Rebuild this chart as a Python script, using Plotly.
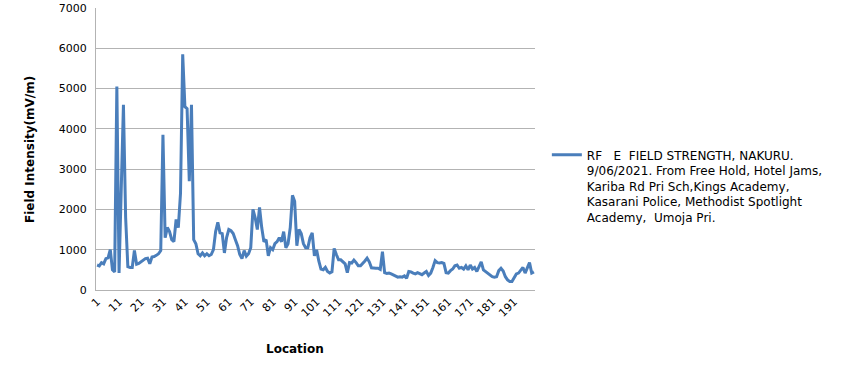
import plotly.graph_objects as go

locations = list(range(1, 201))

field_strength = [
    # 1-32
    620, 600, 680, 650, 780, 800, 1000, 500, 450, 5050, 420, 2500, 4600, 1800, 580, 560,
    560, 980, 640, 660, 700, 740, 780, 790, 650, 820, 830, 860, 900, 980, 3850, 1300,
    # 33-65
    1550, 1450, 1250, 1200, 1750, 1550, 2400, 5850, 4550, 4500, 2700, 4600, 1250, 1150, 900,
    850, 920, 850, 900, 850, 880, 1000, 1450, 1680, 1420, 1400, 920, 1300, 1500, 1470, 1400,
    1250, 1100,
    # 66-98
    880, 780, 980, 840, 900, 1050, 2000, 1800, 1500, 2050, 1550, 1200, 1250, 850, 1050, 1000,
    1150, 1200, 1300, 1200, 1450, 1050, 1150, 1550, 2350, 2200, 1100, 1500, 1400, 1150, 1050,
    1050, 1300,
    # 99-131
    1420, 850, 1000, 720, 520, 500, 560, 460, 420, 450, 1030, 880, 750, 750, 700, 650, 430,
    680, 670, 740, 680, 600, 600, 650, 720, 790, 700, 550, 540, 540, 540, 510, 950,
    # 132-166
    430, 410, 420, 400, 370, 350, 320, 330, 320, 350, 290, 460, 450, 420, 400, 430, 400, 380,
    420, 460, 360, 420, 560, 730, 680, 670, 680, 660, 430, 420, 480, 520, 600, 620, 540,
    # 167-200
    560, 520, 600, 500, 620, 520, 560, 460, 580, 700, 500, 460, 420, 380, 330, 320, 330, 480,
    540, 470, 330, 250, 210, 210, 310, 400, 420, 480, 560, 420, 560, 680, 420, 450,
]

x_tick_vals = list(range(1, 200, 10))
y_tick_vals = list(range(0, 7001, 1000))

series_name = ("RF\u00a0\u00a0 E\u00a0 FIELD STRENGTH, NAKURU.<br>"
               "9/06/2021. From Free Hold, Hotel Jams,<br>"
               "Kariba Rd Pri Sch,Kings Academy,<br>"
               "Kasarani Police, Methodist Spotlight<br>"
               "Academy,\u00a0 Umoja Pri.")

FONT = "DejaVu Sans"
GRID = "#b3b3b3"

fig = go.Figure()
fig.add_trace(go.Scatter(
    x=locations[:len(field_strength)], y=field_strength, mode="lines",
    name=series_name, line=dict(color="#4a7ebb", width=3),
    showlegend=True,
))

fig.update_layout(
    width=847, height=376,
    margin=dict(l=96, r=312, t=8, b=86, autoexpand=False),
    paper_bgcolor="white", plot_bgcolor="white",
    font=dict(family=FONT, size=11, color="black"),
    showlegend=True,
    legend=dict(x=1.027, y=0.53, xanchor="left", yanchor="top",
                font=dict(family=FONT, size=12, color="black"),
                valign="top", bgcolor="rgba(0,0,0,0)", borderwidth=0,
                itemwidth=30, tracegroupgap=0),
    xaxis=dict(range=[0.5, 200.5], tickmode="array", tickvals=x_tick_vals,
               ticktext=[str(v) for v in x_tick_vals], tickangle=-45,
               showgrid=False, zeroline=False, showline=True, linecolor=GRID,
               linewidth=1, ticks="", automargin=False,
               tickfont=dict(family=FONT, size=11)),
    yaxis=dict(range=[0, 7000], tickmode="array", tickvals=y_tick_vals,
               showgrid=True, gridcolor=GRID, gridwidth=1, zeroline=False,
               showline=True, linecolor=GRID, linewidth=1, ticks="",
               ticklabelstandoff=6,
               automargin=False, tickfont=dict(family=FONT, size=11)),
    annotations=[
        dict(text="<b>Location</b>", x=295, y=349, xref="paper", yref="paper",
             showarrow=False, font=dict(family=FONT, size=12)),
        dict(text="<b>Field Intensity(mV/m)</b>", textangle=-90, x=30, y=150,
             xref="paper", yref="paper", showarrow=False,
             font=dict(family=FONT, size=12)),
    ],
)

# convert pixel positions of titles into paper coordinates
pw = 847 - 96 - 312
ph = 376 - 8 - 86
for a in fig.layout.annotations:
    px, py = a.x, a.y
    a.x = (px - 96) / pw
    a.y = 1 - (py - 8) / ph
    a.xanchor = "center"
    a.yanchor = "middle"

fig.write_html("out.html",
               config={"displayModeBar": False},
               post_script="document.body.style.margin='0';document.body.style.padding='0';")
